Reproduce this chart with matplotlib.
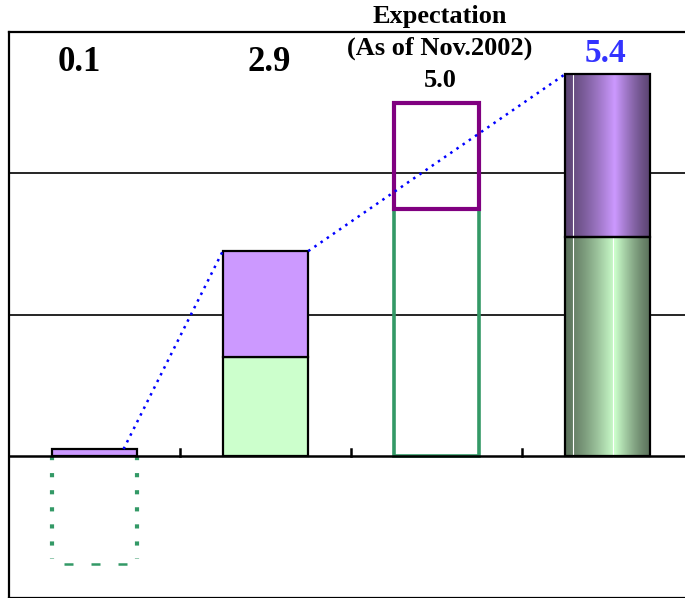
import numpy as np
import matplotlib.pyplot as plt
import matplotlib.patches as mpatches
from matplotlib.colors import to_rgb

# values
x_pos = [0, 1, 2, 3]
green_low = [-1.5, 0.0, 0.0, 0.0]
green_high = [0.0, 1.4, 3.5, 3.1]
purple_low = [0.0, 1.4, 3.5, 3.1]
purple_high = [0.1, 2.9, 5.0, 5.4]
top_labels = ["0.1", "2.9", "5.0", "5.4"]
note_lines = ["Expectation", "(As of Nov.2002)"]

PURPLE = "#CC99FF"
GREEN = "#CCFFCC"
DARK_PURPLE = "#800080"
DARK_GREEN = "#339966"
BW = 0.5

plt.rcParams['font.family'] = ['Liberation Serif', 'DejaVu Serif']

fig = plt.figure(figsize=(6.85, 5.98), dpi=100)
ax = fig.add_axes([9/685, 0.5/598, 684/685, 565.5/598])
ax.set_xlim(-0.5, 3.5)
ax.set_ylim(-2, 6)
ax.set_xticks([])
ax.set_yticks([])
for s in ax.spines.values():
    s.set_linewidth(1.6)
    s.set_zorder(10)

# grid + zero line
for g in [2, 4]:
    ax.axhline(g, color="black", lw=1.2, zorder=1)
ax.axhline(0, color="black", lw=1.8, zorder=6)
for t in [0.5, 1.5, 2.5]:
    ax.plot([t, t], [0, 0.1], color="black", lw=1.8, zorder=6)


def rect(i, lo, hi, **kw):
    r = mpatches.Rectangle((x_pos[i] - BW/2, lo), BW, hi - lo, **kw)
    ax.add_patch(r)
    return r


# bar 1: thin purple cap and dotted green outline below zero
rect(0, purple_low[0], purple_high[0], facecolor=PURPLE, edgecolor="black", lw=1.6, zorder=5)
x0 = x_pos[0]
for xs in [x0 - BW/2, x0 + BW/2]:
    ax.plot([xs, xs], [0, green_low[0] + 0.04], color=DARK_GREEN, lw=3,
            linestyle=(0, (1.0, 3.1)), zorder=4)
ax.plot([x0 - BW/2 + 0.07, x0 + BW/2 - 0.06], [green_low[0] - 0.02, green_low[0] - 0.02],
        color=DARK_GREEN, lw=1.8, linestyle=(0, (3.6, 7.2)), zorder=4)

# bar 2: plain stacked
rect(1, green_low[1], green_high[1], facecolor=GREEN, edgecolor="black", lw=1.6, zorder=5)
rect(1, purple_low[1], purple_high[1], facecolor=PURPLE, edgecolor="black", lw=1.6, zorder=5)

# bar 3: expectation outlines
rect(2, green_low[2], green_high[2], facecolor="none", edgecolor=DARK_GREEN, lw=2.6, zorder=5)
rect(2, purple_low[2], purple_high[2], facecolor="none", edgecolor=DARK_PURPLE, lw=3.0, zorder=5)

# bar 4: shaded cylinder look
tt = np.linspace(0, 1, 200)
peak = 0.58
shade = np.where(tt < peak, 1 - (peak - tt)/peak, 1 - (tt - peak)/(1 - peak))
shade = 0.45 + 0.55*shade**1.3
for lo, hi, col in [(green_low[3], green_high[3], GREEN), (purple_low[3], purple_high[3], PURPLE)]:
    rgb = np.array(to_rgb(col))
    img = shade[None, :, None]*rgb[None, None, :]
    ax.imshow(img, extent=[x_pos[3] - BW/2, x_pos[3] + BW/2, lo, hi],
              aspect="auto", interpolation="bilinear", zorder=5)
    rect(3, lo, hi, facecolor="none", edgecolor="black", lw=1.6, zorder=7)
xw = x_pos[3] - BW/2 + 0.095*BW
ax.plot([xw, xw], [0, purple_high[3]], color="white", lw=0.8, zorder=6)
xw2 = x_pos[3] - BW/2 + 0.56*BW
ax.plot([xw2, xw2], [0, green_high[3]], color="white", lw=0.8, zorder=6)
ax.set_xlim(-0.5, 3.5)
ax.set_ylim(-2, 6)

# blue dotted connector
ax.plot([x0 + 0.17, x_pos[1] - BW/2], [purple_high[0], purple_high[1]],
        color="blue", lw=1.8, linestyle=(0, (1, 2.0)), zorder=8)
ax.plot([x_pos[1] + BW/2, x_pos[3] - BW/2], [purple_high[1], purple_high[3]],
        color="blue", lw=1.8, linestyle=(0, (1, 2.0)), zorder=8)

# labels
ax.text(x_pos[0] - 0.09, 5.57, top_labels[0], ha="center", va="center",
        fontsize=25, fontweight="bold")
ax.text(x_pos[1] + 0.02, 5.57, top_labels[1], ha="center", va="center",
        fontsize=25, fontweight="bold")
ax.text(x_pos[2] + 0.02, 6.22, note_lines[0], ha="center", va="center",
        fontsize=19, fontweight="bold", clip_on=False)
ax.text(x_pos[2] + 0.02, 5.77, note_lines[1], ha="center", va="center",
        fontsize=19, fontweight="bold")
ax.text(x_pos[2] + 0.02, 5.32, top_labels[2], ha="center", va="center",
        fontsize=19, fontweight="bold")
ax.text(x_pos[3] - 0.01, 5.7, top_labels[3], ha="center", va="center",
        fontsize=24, fontweight="bold", color="#3333FF")

fig.savefig("out.png", dpi=100)
